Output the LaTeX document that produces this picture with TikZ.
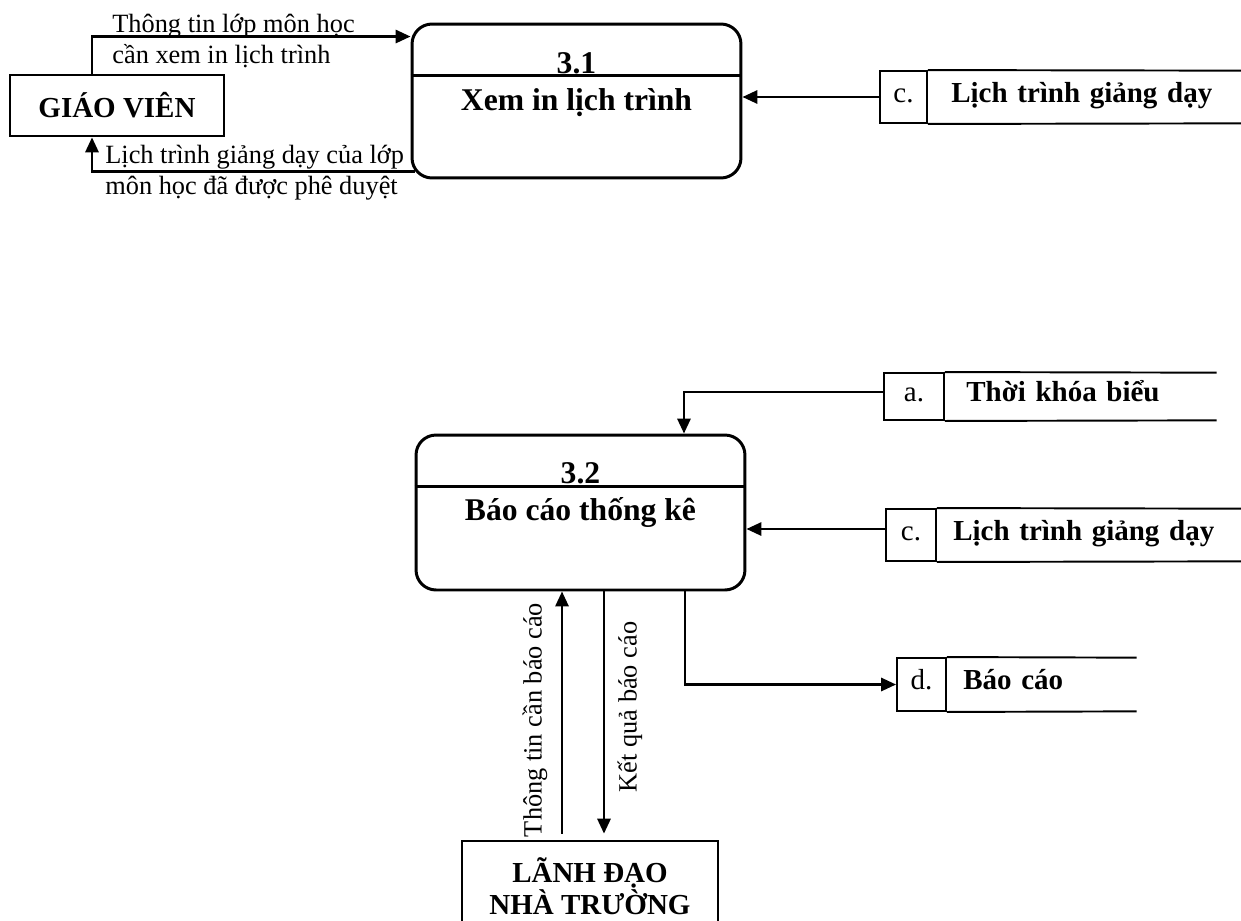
\documentclass[tikz,border=0pt]{standalone}
\usepackage{fontspec}
\setmainfont{Liberation Serif}
\usetikzlibrary{arrows.meta,positioning}

\begin{document}
\begin{tikzpicture}[x=0.02cm,y=-0.02cm,entity/.style={draw,line width=1.6pt,align=center,inner sep=0pt,font=\fontsize{16.5}{18.2}\selectfont\bfseries},process/.style={draw,line width=1.7pt,rounded corners=0.4cm,minimum width=6.58cm,inner sep=0pt},ptitle/.style={anchor=base,inner sep=0pt,font=\fontsize{18}{20}\selectfont\bfseries},storeid/.style={draw,line width=1.1pt,inner sep=0pt,text height=0.3cm,text depth=0.1cm,font=\fontsize{16.5}{18}\selectfont},storename/.style={align=left,inner ysep=0pt,text height=0.3cm,text depth=0.1cm,font=\fontsize{16.5}{18}\selectfont\bfseries},flow/.style={align=left,inner sep=0pt,font=\fontsize{15}{17.5}\selectfont},arr/.style={-{Triangle[length=8.5pt,width=7.5pt]},line width=1.4pt}]
\useasboundingbox (0,0) rectangle (1241,920);
% process 3.1
\node[entity,minimum width=4.28cm,minimum height=1.22cm] (gv) at (117,105.5) {GIÁO VIÊN};
\node[process,minimum height=3.08cm] (p31) at (576.5,101) {};
\draw[line width=1.5pt] ([yshift=-1.06cm]p31.north west) -- ([yshift=-1.06cm]p31.north east);
\node[ptitle] (n31) at (576.5,73) {3.1};
\node[ptitle] (t31) at (576.5,110) {Xem in lịch trình};
\node[storeid,minimum width=0.94cm,minimum height=1.04cm] (c1) at (903.5,97) {c.};
\node[storename,right=0pt of c1,minimum height=1.04cm,inner xsep=0.46cm,text width=5.36cm] (c1n) {Lịch trình giảng dạy};
\draw[line width=1.1pt] (c1.north east) -- (c1n.north east) (c1.south east) -- (c1n.south east);
\draw[arr] ([xshift=-0.5cm]gv.north) |- ([yshift=-0.28cm]p31.north west);
\draw[arr] ([shift={(0.08cm,0.16cm)}]p31.south west) -| ([xshift=-0.5cm]gv.south);
\draw[arr] (c1.west) -- (c1.west -| p31.east);
\node[flow,anchor=base west] (f1) at (112,63) {Thông tin lớp môn học\\cần xem in lịch trình};
\node[flow,anchor=base west] (f2) at (105,194) {Lịch trình giảng dạy của lớp\\môn học đã được phê duyệt};
% process 3.2
\node[process,minimum height=3.1cm] (p32) at (580.5,512.5) {};
\draw[line width=1.5pt] ([yshift=-1.06cm]p32.north west) -- ([yshift=-1.06cm]p32.north east);
\node[ptitle] (n32) at (580.5,483) {3.2};
\node[ptitle] (t32) at (580.5,520) {Báo cáo thống kê};
\node[storeid,minimum width=1.2cm,minimum height=0.94cm] (a2) at (914,396.5) {a.};
\node[storename,right=0pt of a2,minimum height=0.94cm,inner xsep=0.42cm,text width=4.58cm] (a2n) {Thời khóa biểu};
\draw[line width=1.1pt] (a2.north east) -- (a2n.north east) (a2.south east) -- (a2n.south east);
\node[storeid,minimum width=1cm,minimum height=1.04cm] (c2) at (911,535) {c.};
\node[storename,right=0pt of c2,minimum height=1.04cm,inner xsep=0.32cm,text width=5.46cm] (c2n) {Lịch trình giảng dạy};
\draw[line width=1.1pt] (c2.north east) -- (c2n.north east) (c2.south east) -- (c2n.south east);
\node[storeid,minimum width=0.98cm,minimum height=1.06cm] (d2) at (921.5,684.5) {d.};
\node[storename,right=0pt of d2,minimum height=1.06cm,inner xsep=0.32cm,text width=3.14cm] (d2n) {Báo cáo};
\draw[line width=1.1pt] (d2.north east) -- (d2n.north east) (d2.south east) -- (d2n.south east);
\node[entity,minimum width=5.12cm,minimum height=1.8cm] (ld) at (590,886) {LÃNH ĐẠO\\NHÀ TRƯỜNG};
\draw[arr] ([yshift=0.09cm]a2.west) -| ([xshift=2.07cm]p32.north);
\draw[arr] ([yshift=0.12cm]c2.west) -- ([yshift=0.12cm]c2.west -| p32.east);
\draw[arr] ([xshift=2.09cm]p32.south) |- (d2.west);
\coordinate (up) at ([xshift=-0.56cm]ld.north);
\coordinate (dn) at ([xshift=0.28cm]ld.north);
\draw[arr,shorten <=0.12cm] (up) -- (up |- p32.south);
\draw[arr,shorten >=0.12cm] (dn |- p32.south) -- (dn);
\node[flow,rotate=90] (f3) at (535,720) {Thông tin cần báo cáo};
\node[flow,rotate=90] (f4) at (630,707) {Kết quả báo cáo};
\end{tikzpicture}
\end{document}
